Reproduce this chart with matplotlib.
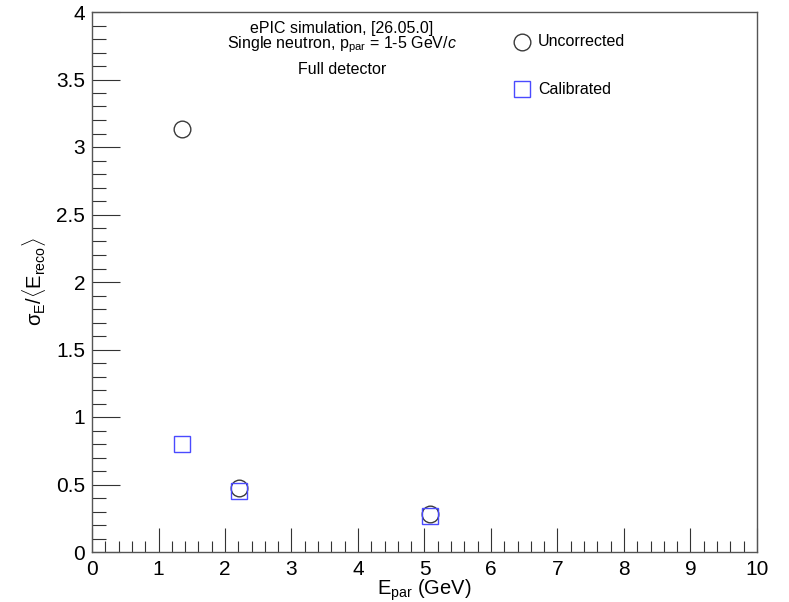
import matplotlib
matplotlib.use("Agg")
import matplotlib.pyplot as plt
from matplotlib.ticker import MultipleLocator

plt.rcParams['font.family'] = ['Liberation Sans', 'DejaVu Sans']
plt.rcParams['mathtext.fontset'] = 'custom'
plt.rcParams['mathtext.rm'] = 'Liberation Sans'
plt.rcParams['mathtext.it'] = 'Liberation Sans:italic'

energy_uncorr = [1.35, 2.21, 5.08]
res_uncorr = [3.13, 0.476, 0.284]
energy_calib = [1.36, 2.21, 5.08]
res_calib = [0.80, 0.454, 0.264]

fig = plt.figure(figsize=(7.89, 6.02), dpi=100)
ax = fig.add_axes([92/789, 1-552/602, (757-92)/789, (552-12)/602])

ax.plot(energy_uncorr, res_uncorr, linestyle='none', marker='o', markersize=12,
        markerfacecolor='none', markeredgecolor='#3a3a3a', markeredgewidth=1.0)
ax.plot(energy_calib, res_calib, linestyle='none', marker='s', markersize=12,
        markerfacecolor='none', markeredgecolor='#4a4aff', markeredgewidth=1.0)

ax.set_xlim(0, 10)
ax.set_ylim(0, 4)
ax.xaxis.set_minor_locator(MultipleLocator(0.2))
ax.yaxis.set_minor_locator(MultipleLocator(0.1))
ax.set_xticks(range(0, 11))
ax.set_xticklabels([str(i) for i in range(0, 11)])
ax.set_yticks([0, 0.5, 1, 1.5, 2, 2.5, 3, 3.5, 4])
ax.set_yticklabels(['0', '0.5', '1', '1.5', '2', '2.5', '3', '3.5', '4'])
ax.tick_params(axis='both', which='both', direction='in', top=False, right=False,
               labelsize=15, color='#333333', width=0.8)
ax.tick_params(axis='x', which='major', length=17, pad=6)
ax.tick_params(axis='x', which='minor', length=8)
ax.tick_params(axis='y', which='major', length=20, pad=5)
ax.tick_params(axis='y', which='minor', length=10)
for s in ax.spines.values():
    s.set_linewidth(1.0)
    s.set_color('#555555')

ax.set_xlabel(r'E$_{\mathrm{par}}$ (GeV)', fontsize=14.5, labelpad=-1)
ax.set_ylabel(r'σ$_{\mathrm{E}}$/$\langle$E$_{\mathrm{reco}}\rangle$', fontsize=14.5, labelpad=6)

fig.text(342/789, 1-28/602, 'ePIC simulation, [26.05.0]', ha='center', va='center', fontsize=11.5)
fig.text(342/789, 1-45/602, r'Single neutron, p$_{\mathrm{par}}$ = 1-5 GeV/$\mathit{c}$',
         ha='center', va='center', fontsize=11.5)
fig.text(342/789, 1-69/602, 'Full detector', ha='center', va='center', fontsize=11.5)

# legend
lx = 522/789
fig.lines.append(plt.Line2D([lx], [1-42/602], transform=fig.transFigure, marker='o',
                            markersize=12, markerfacecolor='none', markeredgecolor='#3a3a3a',
                            markeredgewidth=1.0, linestyle='none'))
fig.lines.append(plt.Line2D([lx], [1-89/602], transform=fig.transFigure, marker='s',
                            markersize=12, markerfacecolor='none', markeredgecolor='#4a4aff',
                            markeredgewidth=1.0, linestyle='none'))
fig.text(538/789, 1-42/602, 'Uncorrected', ha='left', va='center', fontsize=11.5)
fig.text(538/789, 1-89/602, 'Calibrated', ha='left', va='center', fontsize=11.5)

fig.savefig('out.png', dpi=100)
